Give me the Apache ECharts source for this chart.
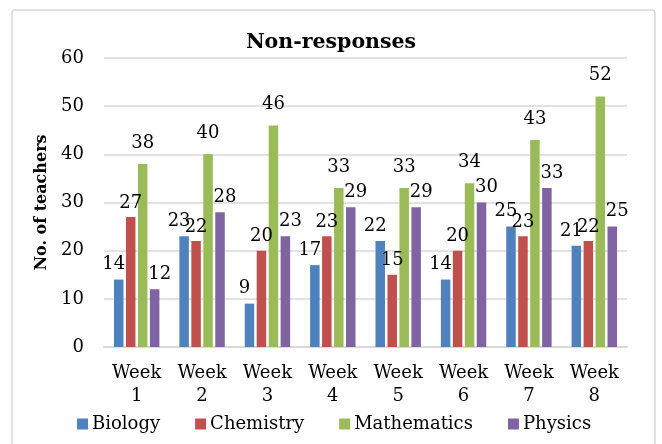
<!DOCTYPE html>
<html>
<head>
<meta charset="utf-8">
<script src="https://cdn.jsdelivr.net/npm/echarts@6/dist/echarts.min.js"></script>
<style>html,body{margin:0;padding:0;background:#fff;}#c{width:662px;height:444px;}</style>
</head>
<body>
<div id="c"></div>
<script>
const categories = ['Week\n1','Week\n2','Week\n3','Week\n4','Week\n5','Week\n6','Week\n7','Week\n8'];
const biology = [14, 23, 9, 17, 22, 14, 25, 21];
const chemistry = [27, 22, 20, 23, 15, 20, 23, 22];
const mathematics = [38, 40, 46, 33, 33, 34, 43, 52];
const physics = [12, 28, 23, 29, 29, 30, 33, 25];
const yTicks = { min: 0, max: 60, interval: 10 };

const FONT = 'DejaVu Serif';
const chart = echarts.init(document.getElementById('c'), null, { renderer: 'canvas' });
function mk(name, data, color, dist, off) {
  return {
    name, type: 'bar', data, barWidth: 9.5, barGap: '26%',
    itemStyle: { color },
    label: { show: true, position: 'top', distance: dist, offset: off,
      fontFamily: FONT, fontSize: 18, color: '#000' }
  };
}
chart.setOption({
  animation: false,
  graphic: [{ type: 'rect', shape: { x: 12, y: 10, width: 643, height: 440, r: 3 },
    style: { fill: 'none', stroke: '#d9d9d9', lineWidth: 1.5 }, silent: true }],
  title: { text: 'Non-responses', left: 'center', top: 27,
    textStyle: { fontFamily: FONT, fontWeight: 'bold', fontSize: 20.5, color: '#000' } },
  grid: { left: 104, right: 35, top: 58, bottom: 97 },
  legend: { left: 77, top: 415, padding: 0, itemWidth: 11, itemHeight: 11, itemGap: 35,
    icon: 'rect', textStyle: { fontFamily: FONT, fontSize: 18, color: '#000', padding: [0,0,0,-1] },
    data: ['Biology','Chemistry','Mathematics','Physics'] },
  xAxis: { type: 'category', data: categories,
    axisLine: { lineStyle: { color: '#d9d9d9', width: 2 } }, axisTick: { show: false },
    axisLabel: { fontFamily: FONT, fontSize: 18, color: '#000', lineHeight: 23, margin: 15 } },
  yAxis: { type: 'value', min: yTicks.min, max: yTicks.max, interval: yTicks.interval,
    name: 'No. of teachers', nameLocation: 'middle', nameGap: 53, nameRotate: 90,
    nameTextStyle: { fontFamily: FONT, fontWeight: 'bold', fontSize: 16, color: '#000' },
    axisLine: { show: false }, axisTick: { show: false },
    splitLine: { lineStyle: { color: '#d9d9d9', width: 1.5 } },
    axisLabel: { fontFamily: FONT, fontSize: 18, color: '#000', margin: 20 } },
  series: [
    mk('Biology', biology, '#4F81BD', 6, [-5, 0]),
    mk('Chemistry', chemistry, '#C0504D', 5, [0, 0]),
    mk('Mathematics', mathematics, '#9BBB59', 12, [0, 0]),
    mk('Physics', physics, '#8064A2', 6, [5, 0])
  ]
});
</script>
</body>
</html>
